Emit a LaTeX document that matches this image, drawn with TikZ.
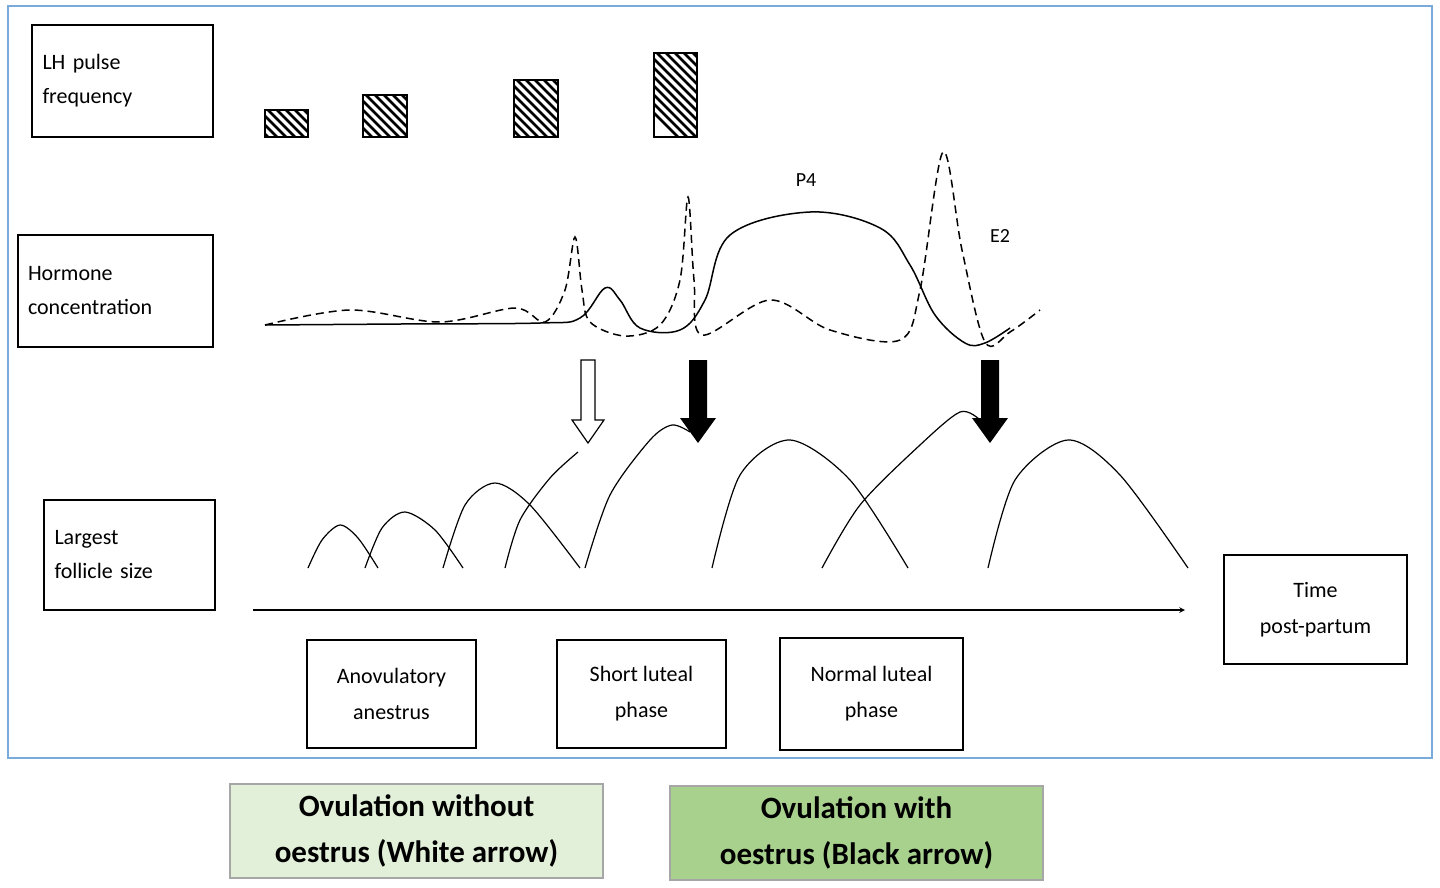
\documentclass[tikz,border=0pt]{standalone}
\usepackage{fontspec}
\setmainfont{Carlito}
\begin{document}
\begin{tikzpicture}[x=1pt,y=-1pt,
  lbl/.style={draw,line width=1.3pt,align=left,font=\fontsize{22}{34}\selectfont},
  ph/.style={draw,line width=1.2pt,align=center,font=\fontsize{22}{36}\selectfont,minimum width=169pt,minimum height=108pt},
  gbox/.style={draw=gray!70,line width=1.2pt,align=center,font=\bfseries\fontsize{31}{46}\selectfont,minimum width=373pt,minimum height=94pt},
  crv/.style={line width=1.5pt},
  fol/.style={line width=1.2pt}]
\useasboundingbox (0,0) rectangle (1440,887);
\draw[draw={rgb,255:red,120;green,170;blue,220},line width=1.5pt] (8,6) rectangle (1432,758);
% labels
\node[lbl,minimum width=181pt,minimum height=112pt,text width=160pt] (lh) at (122.5,81) {LH pulse\\frequency};
\node[lbl,minimum width=195pt,minimum height=112pt,text width=175pt] (hc) at (115.5,291) {Hormone\\concentration};
\node[lbl,minimum width=171pt,minimum height=110pt,text width=150pt] (lf) at (129.5,555) {Largest\\follicle size};
\node[lbl,line width=2pt,minimum width=183pt,minimum height=109pt,align=center,font=\fontsize{22}{36}\selectfont] (tp) at (1315.5,609.5) {Time\\post-partum};
\node[ph] (an) at (391.5,694) {Anovulatory\\anestrus};
\node[ph] (sl) at (641.5,694) {Short luteal\\phase};
\node[ph,line width=2pt,minimum width=183pt,minimum height=112pt] (nl) at (871.5,694) {Normal luteal\\phase};
\node[gbox,fill={rgb,255:red,226;green,239;blue,217}] (g1) at (416.5,831) {Ovulation without\\oestrus (White arrow)};
\node[gbox,fill={rgb,255:red,169;green,209;blue,142}] (g2) at (856.5,833) {Ovulation with\\oestrus (Black arrow)};
% hatched
\foreach \a/\b/\c/\d in {265/110/308/137, 363/95/407/137, 514/80/558/137, 654/53/697/137}{
  \begin{scope}
    \clip (\a,\b) rectangle (\c,\d);
    \foreach \k in {-60,-51,...,150}{
      \draw[line width=2.6pt] (\a+\k,\b) -- (\a+\k+100,\b+100);}
  \end{scope}
  \draw[line width=1.5pt] (\a,\b) rectangle (\c,\d);
}
% axis
\coordinate (a0) at (253,610); \coordinate (a1) at (1185,610);
\draw[line width=1.5pt,-stealth] (a0) -- (a1);
% P4 solid
\draw[crv] plot[smooth,tension=0.6] coordinates {(265,325) (400,324) (540,323) (580,318) (605,288) (620,300) (640,328) (680,330) (705,300) (730,235) (810,212) (880,228) (910,265) (935,315) (965,343) (985,343) (1010,328)};
% E2 dashed
\draw[crv,dash pattern=on 8pt off 5pt] plot[smooth,tension=0.55] coordinates {(265,325) (350,310) (440,322) (515,308) (545,322) (565,290) (575,237) (582,290) (590,322) (625,336) (660,325) (680,280) (688,197) (694,280) (702,335) (770,300) (830,330) (900,340) (920,290) (943,152) (962,250) (985,342) (1010,332) (1040,310)};
\node[font=\fontsize{20}{22}\selectfont] (p4) at (806,180) {P4};
\node[font=\fontsize{20}{22}\selectfont] (e2) at (1000,236) {E2};
% arrows
\draw[line width=1.2pt,fill=white] (581,360) -- (595,360) -- (595,420) -- (604,420) -- (588,443) -- (572,420) -- (581,420) -- cycle;
\foreach \x in {698,990}{
\fill (\x-9,360) -- (\x+9,360) -- (\x+9,418) -- (\x+18,418) -- (\x,443) -- (\x-18,418) -- (\x-9,418) -- cycle;}
% follicles
\draw[fol] plot[smooth] coordinates {(308,568) (322,540) (340,525) (358,538) (378,568)};
\draw[fol] plot[smooth] coordinates {(365,568) (382,528) (405,512) (435,530) (463,568)};
\draw[fol] plot[smooth] coordinates {(443,568) (465,505) (495,483) (530,505) (580,568)};
\draw[fol] plot[smooth] coordinates {(505,568) (520,520) (550,478) (578,452)};
\draw[fol] plot[smooth] coordinates {(585,568) (610,495) (650,440) (672,425) (690,432)};
\draw[fol] plot[smooth] coordinates {(712,568) (740,475) (790,440) (850,480) (908,568)};
\draw[fol] plot[smooth] coordinates {(822,568) (860,505) (920,445) (960,412) (980,420)};
\draw[fol] plot[smooth] coordinates {(988,568) (1015,480) (1068,440) (1120,475) (1188,568)};
\end{tikzpicture}
\end{document}
